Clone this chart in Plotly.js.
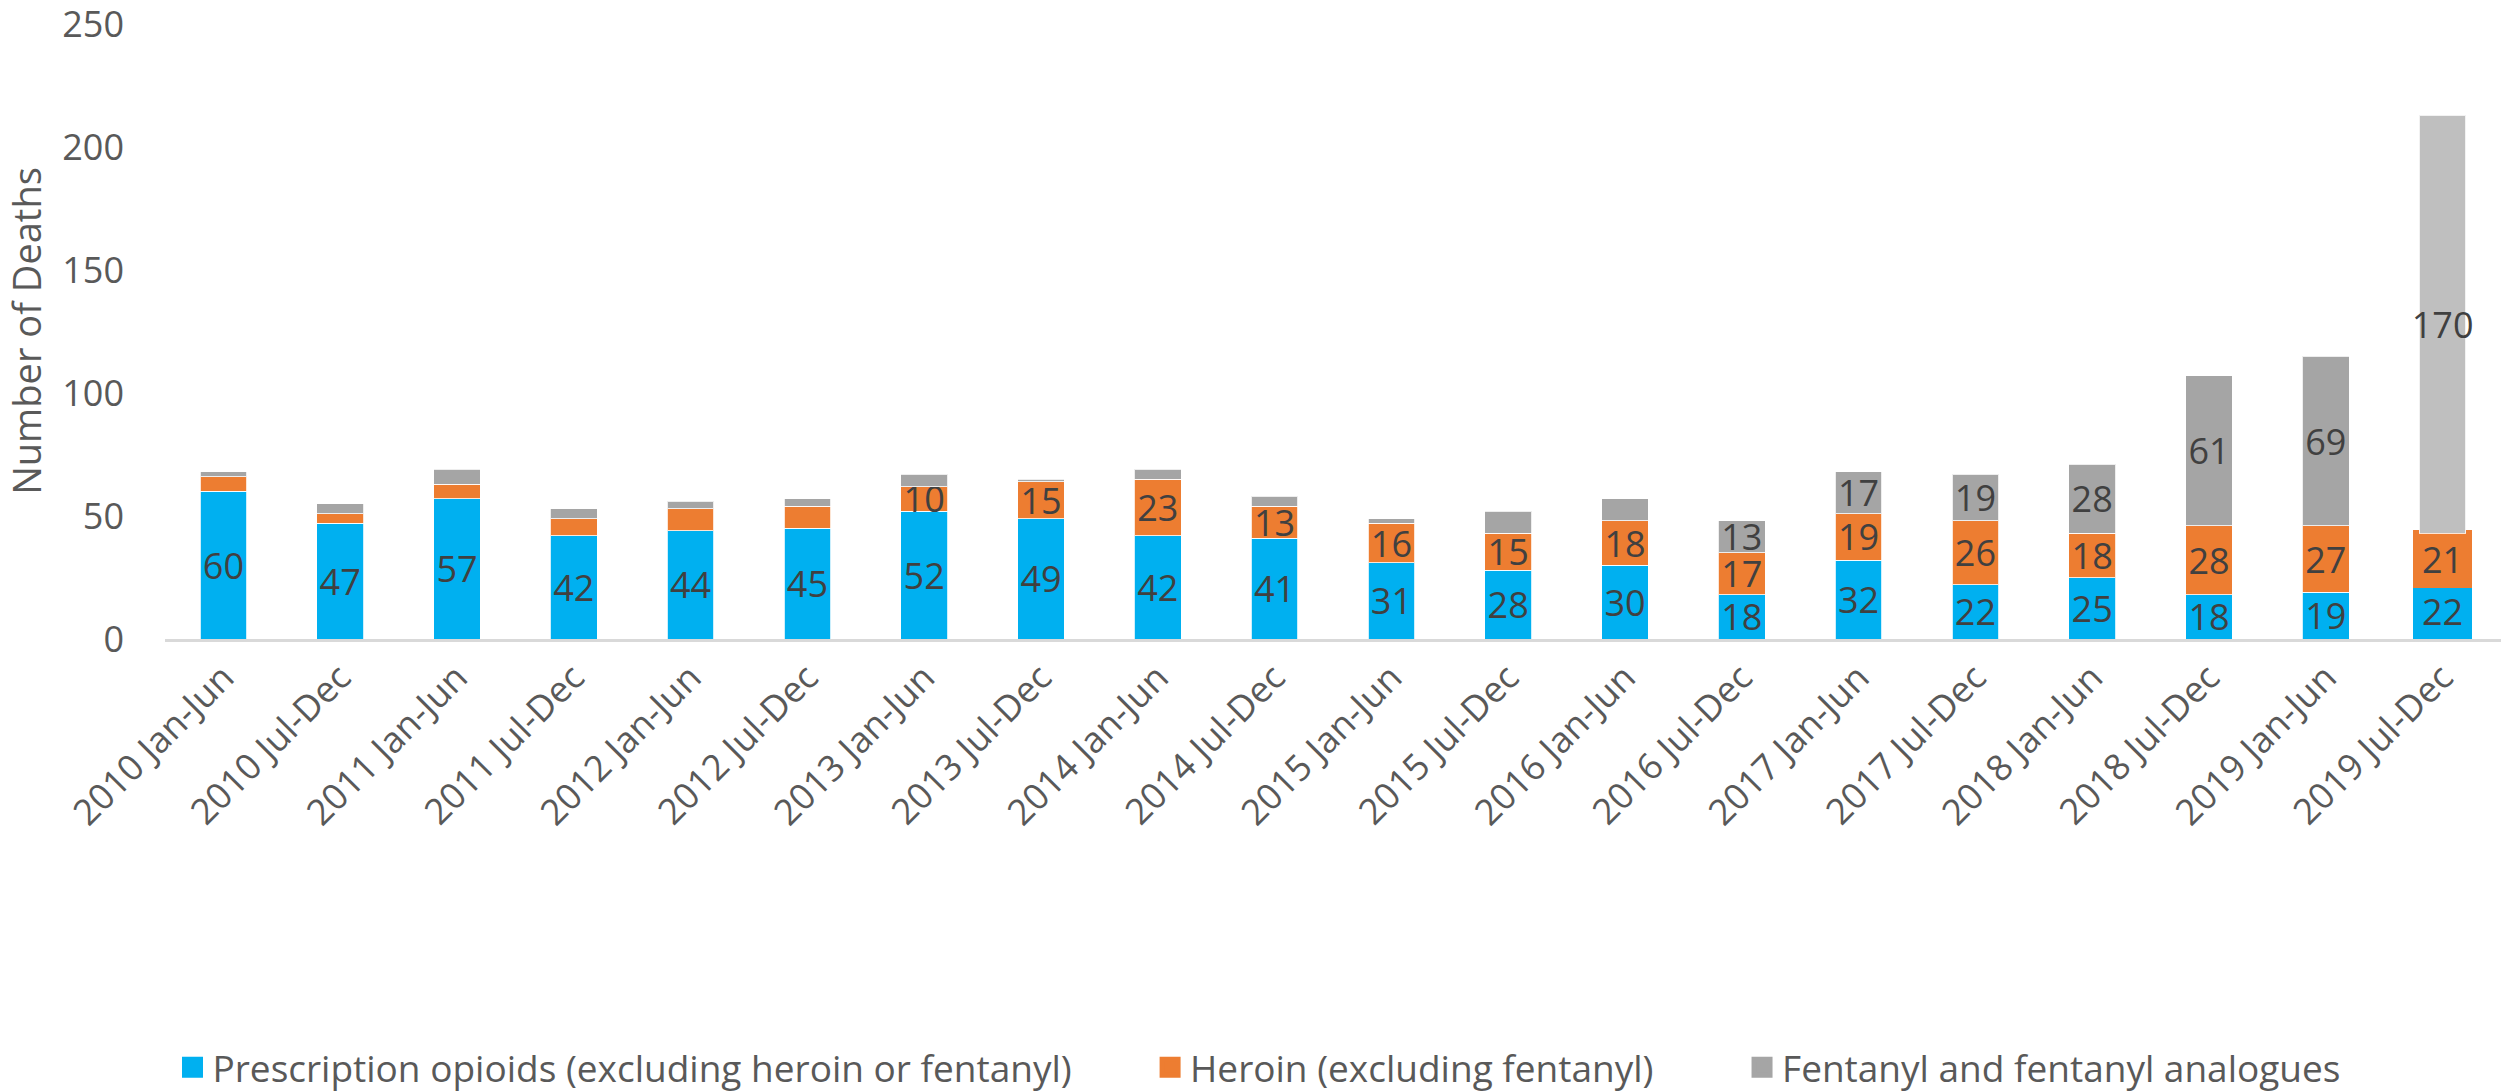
<!DOCTYPE html>
<html>
<head>
<meta charset="utf-8">
<script src="https://cdn.plot.ly/plotly-3.0.1.min.js"></script>
<style>html,body{margin:0;padding:0;background:#fff;}#chart{width:2506px;height:1092px;}</style>
</head>
<body>
<div id="chart"></div>
<script>
const periods = ["2010 Jan-Jun","2010 Jul-Dec","2011 Jan-Jun","2011 Jul-Dec","2012 Jan-Jun","2012 Jul-Dec","2013 Jan-Jun","2013 Jul-Dec","2014 Jan-Jun","2014 Jul-Dec","2015 Jan-Jun","2015 Jul-Dec","2016 Jan-Jun","2016 Jul-Dec","2017 Jan-Jun","2017 Jul-Dec","2018 Jan-Jun","2018 Jul-Dec","2019 Jan-Jun","2019 Jul-Dec"];
const prescription = [60,47,57,42,44,45,52,49,42,41,31,28,30,18,32,22,25,18,19,22];
const heroin = [6,4,6,7,9,9,10,15,23,13,16,15,18,17,19,26,18,28,27,21];
const fentanyl = [2,4,6,4,3,3,5,1,4,4,2,9,9,13,17,19,28,61,69,170];
const seriesNames = ["Prescription opioids (excluding heroin or fentanyl)","Heroin (excluding fentanyl)","Fentanyl and fentanyl analogues"];
const colors = ["#00B0F0","#ED7D31","#A5A5A5"];
const yTicks = [0, 50, 100, 150, 200, 250];

const n = periods.length;
const last = n - 1;
const FONT = "Open Sans, sans-serif";
function labels(arr){ return arr.map(v => v >= 10 ? String(v) : ""); }
function widths(big){ return periods.map((p,i) => (i === last && big) ? 0.455 : 0.4); }
function lineW(big){ return periods.map((p,i) => (i === last && big) ? 6 : 1); }
function lineC(col, big){ return periods.map((p,i) => (i === last && big) ? col : "rgba(255,255,255,0.8)"); }

const labelFont = {family: FONT, size: 36, color: "#404040"};
const legendIds = ["legend", "legend2", "legend3"];

function trace(vals, idx, big, fill){
  return {
    type: "bar",
    name: seriesNames[idx],
    legendgroup: "g" + idx,
    showlegend: false,
    x: periods,
    y: vals,
    width: widths(big),
    marker: {color: fill || colors[idx], line: {width: lineW(big), color: lineC(colors[idx], big)}},
    text: labels(vals),
    textposition: "inside",
    insidetextanchor: "middle",
    constraintext: "none",
    textangle: 0,
    insidetextfont: labelFont,
    textfont: labelFont,
    hoverinfo: "skip"
  };
}

// legend keys (nothing drawn in the plot) so the legend squares are as large as in the reference
function legendKey(idx){
  return {
    type: "scatter",
    mode: "markers",
    name: seriesNames[idx],
    legendgroup: "g" + idx,
    legend: legendIds[idx],
    showlegend: true,
    x: [null],
    y: [null],
    marker: {symbol: "square", size: 16, color: colors[idx], line: {width: 5, color: colors[idx]}},
    hoverinfo: "skip"
  };
}

const fentColors = periods.map((p,i) => i === last ? "#BFBFBF" : colors[2]);

const data = [
  trace(prescription, 0, true),
  trace(heroin, 1, true),
  trace(fentanyl, 2, false, fentColors),
  legendKey(0), legendKey(1), legendKey(2)
];

const legendFont = {family: FONT, size: 37, color: "#595959"};
function legendAt(x){
  return {orientation: "h", x: x, xanchor: "left", y: -0.6958, yanchor: "middle",
          font: legendFont, bgcolor: "rgba(0,0,0,0)", borderwidth: 0, itemsizing: "trace"};
}

const layout = {
  width: 2506,
  height: 1092,
  barmode: "stack",
  paper_bgcolor: "#ffffff",
  plot_bgcolor: "#ffffff",
  margin: {l: 165, r: 5, t: 23, b: 453, pad: 0, autoexpand: false},
  font: {family: FONT, color: "#595959", size: 36},
  showlegend: true,
  legend: legendAt(0.0032),
  legend2: legendAt(0.4217),
  legend3: legendAt(0.6751),
  xaxis: {
    type: "category",
    tickangle: -45,
    showline: true,
    linecolor: "#D9D9D9",
    linewidth: 3,
    showgrid: false,
    ticks: "",
    tickfont: {family: FONT, size: 36, color: "#595959"},
    automargin: false
  },
  yaxis: {
    range: [0, 250.5],
    tickvals: yTicks,
    ticktext: yTicks.map(String),
    ticklabeloverflow: "allow",
    showgrid: false,
    zeroline: false,
    showline: false,
    ticks: "",
    ticklabelstandoff: 40,
    tickfont: {family: FONT, size: 36, color: "#595959"},
    title: {text: "Number of Deaths", font: {family: FONT, size: 38, color: "#595959"}, standoff: 12},
    automargin: false
  }
};

Plotly.newPlot("chart", data, layout, {displayModeBar: false, staticPlot: true});
</script>
</body>
</html>
